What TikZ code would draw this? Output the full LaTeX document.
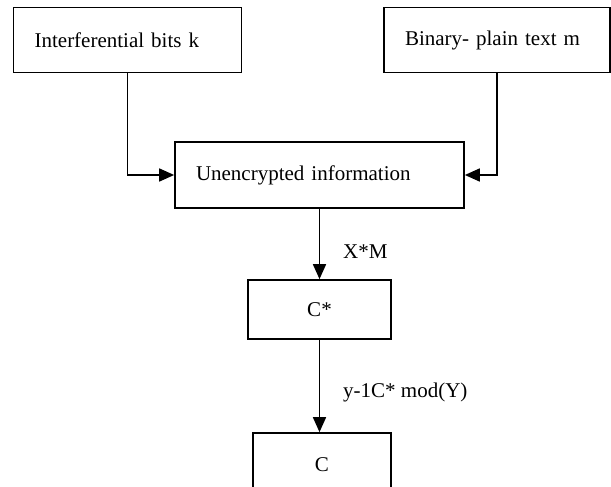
\documentclass[tikz,border=0pt]{standalone}
\usepackage{fontspec}
\setmainfont{Liberation Serif}
\usetikzlibrary{arrows.meta}
\begin{document}
\begin{tikzpicture}[x=1pt,y=-1pt,
  every node/.style={font=\fontsize{21}{25}\selectfont},
  box/.style={draw,line width=1.7pt,inner sep=0pt},
  leftbox/.style={box,align=left,inner xsep=21pt},
  arr/.style={line width=1.7pt,-{Triangle[length=15pt,width=13pt]}},
  lbl/.style={anchor=west,inner sep=0pt}]
\clip (0,0) rectangle (611,487);
\fill[white] (0,0) rectangle (611,487);
\node[leftbox,minimum height=65pt,text width=186pt] (k) at (127.6,40) {Interferential bits k};
\node[leftbox,minimum height=65pt,text width=184pt] (m) at (497,40) {Binary- plain text m};
\node[leftbox,minimum height=66pt,text width=247pt] (u) at (319.5,175) {Unencrypted information};
\node[box,minimum width=143pt,minimum height=59pt] (cs) at (319.5,309.5) {C*};
\node[box,minimum width=138pt,minimum height=80pt] (c) at (322,473) {};
\node at (322,465) (ct) {C};
\draw[arr] (k.south) |- (u.west);
\draw[arr] (m.south) |- (u.east);
\draw[arr] (u.south) -- (cs.north);
\draw[arr] (cs.south) -- (cs.south |- c.north);
\node[lbl] (xm) at (343,252) {X*M};
\node[lbl] (ym) at (343,392) {y-1C* mod(Y)};
\end{tikzpicture}
\end{document}
